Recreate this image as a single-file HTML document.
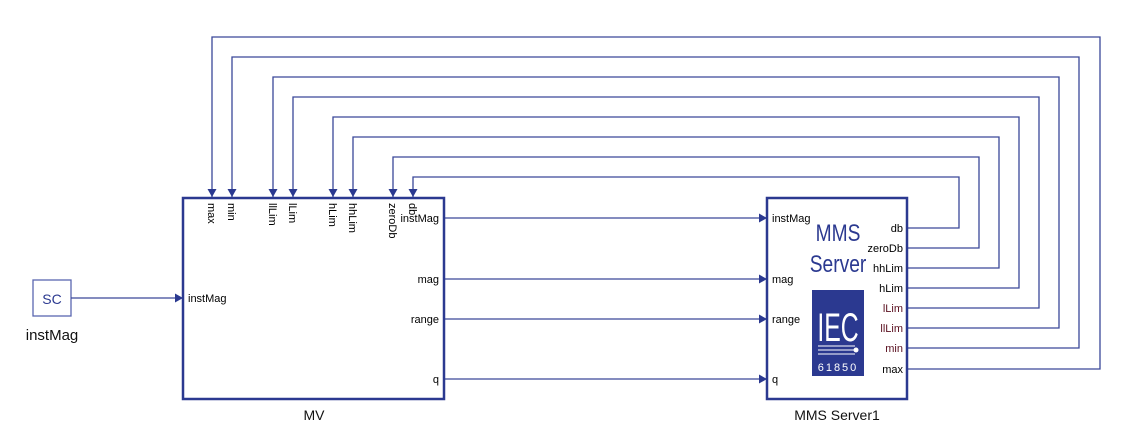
<!DOCTYPE html>
<html><head><meta charset="utf-8"><style>
html,body{margin:0;padding:0;background:#fff;}
svg{display:block;font-family:"Liberation Sans",Arial,sans-serif;}
</style></head><body>
<svg width="1141" height="441" viewBox="0 0 1141 441" xmlns="http://www.w3.org/2000/svg">
<defs>
<marker id="a" markerWidth="8" markerHeight="9" refX="8" refY="4.5" orient="auto" markerUnits="userSpaceOnUse">
<path d="M0,0 L8,4.5 L0,9 Z" fill="#2b3990"/></marker>
</defs>
<g fill="none" stroke="#3a4799" stroke-width="1.3">
<rect x="33" y="280" width="38" height="36" stroke="#5a66b0"/>
<line x1="71" y1="298" x2="183" y2="298" marker-end="url(#a)"/>
<line x1="445" y1="218" x2="767" y2="218" marker-end="url(#a)"/>
<line x1="445" y1="279" x2="767" y2="279" marker-end="url(#a)"/>
<line x1="445" y1="319" x2="767" y2="319" marker-end="url(#a)"/>
<line x1="445" y1="379" x2="767" y2="379" marker-end="url(#a)"/>
<polyline points="907,228 959,228 959,177 413,177 413,197" marker-end="url(#a)"/>
<polyline points="907,248 979,248 979,157 393,157 393,197" marker-end="url(#a)"/>
<polyline points="907,268 999,268 999,137 353,137 353,197" marker-end="url(#a)"/>
<polyline points="907,288 1019,288 1019,117 333,117 333,197" marker-end="url(#a)"/>
<polyline points="907,308 1039,308 1039,97 293,97 293,197" marker-end="url(#a)"/>
<polyline points="907,328 1059,328 1059,77 273,77 273,197" marker-end="url(#a)"/>
<polyline points="907,348 1079,348 1079,57 232,57 232,197" marker-end="url(#a)"/>
<polyline points="907,369 1100,369 1100,37 212,37 212,197" marker-end="url(#a)"/>
</g>
<g fill="none" stroke="#2b3990" stroke-width="2.5">
<rect x="183" y="198" width="261" height="201"/>
<rect x="767" y="198" width="140" height="201"/>
</g>
<text x="52" y="304" font-size="14" fill="#2b3990" text-anchor="middle">SC</text>
<text x="52" y="340" font-size="15" fill="#111" text-anchor="middle">instMag</text>
<text x="314" y="420" font-size="14" fill="#111" text-anchor="middle">MV</text>
<text x="837" y="420" font-size="14" fill="#111" text-anchor="middle">MMS Server1</text>
<g font-size="11" fill="#000">
<text x="188" y="302">instMag</text>
<text x="439" y="222" text-anchor="end">instMag</text>
<text x="439" y="283" text-anchor="end">mag</text>
<text x="439" y="323" text-anchor="end">range</text>
<text x="439" y="383" text-anchor="end">q</text>
<text transform="translate(208,203) rotate(90)">max</text>
<text transform="translate(228,203) rotate(90)">min</text>
<text transform="translate(269,203) rotate(90)">llLim</text>
<text transform="translate(289,203) rotate(90)">lLim</text>
<text transform="translate(329,203) rotate(90)">hLim</text>
<text transform="translate(349,203) rotate(90)">hhLim</text>
<text transform="translate(389,203) rotate(90)">zeroDb</text>
<text transform="translate(409,203) rotate(90)">db</text>
<text x="772" y="222">instMag</text>
<text x="772" y="283">mag</text>
<text x="772" y="323">range</text>
<text x="772" y="383">q</text>
<g text-anchor="end">
<text x="903" y="232">db</text>
<text x="903" y="252">zeroDb</text>
<text x="903" y="272">hhLim</text>
<text x="903" y="292">hLim</text>
<text x="903" y="312" fill="#5a1020">lLim</text>
<text x="903" y="332" fill="#5a1020">llLim</text>
<text x="903" y="352" fill="#5a1020">min</text>
<text x="903" y="373">max</text>
</g>
</g>
<g transform="translate(838,0) scale(0.8,1)">
<text x="0" y="241" font-size="24" fill="#2b3990" text-anchor="middle">MMS</text>
<text x="0" y="272" font-size="24" fill="#2b3990" text-anchor="middle">Server</text>
</g>
<rect x="812" y="290" width="52" height="86" fill="#2b3990"/>
<g transform="translate(838,0) scale(0.62,1)">
<text x="0" y="341" font-size="40" fill="#fff" text-anchor="middle">IEC</text>
</g>
<line x1="818" y1="346" x2="855" y2="346" stroke="#fff" stroke-width="1"/>
<line x1="818" y1="350" x2="855" y2="350" stroke="#fff" stroke-width="1"/>
<line x1="818" y1="354" x2="855" y2="354" stroke="#fff" stroke-width="1"/>
<circle cx="856" cy="350" r="2.5" fill="#fff"/>
<text x="838" y="371" font-size="11" fill="#fff" text-anchor="middle" letter-spacing="2">61850</text>
</svg>
</body></html>
